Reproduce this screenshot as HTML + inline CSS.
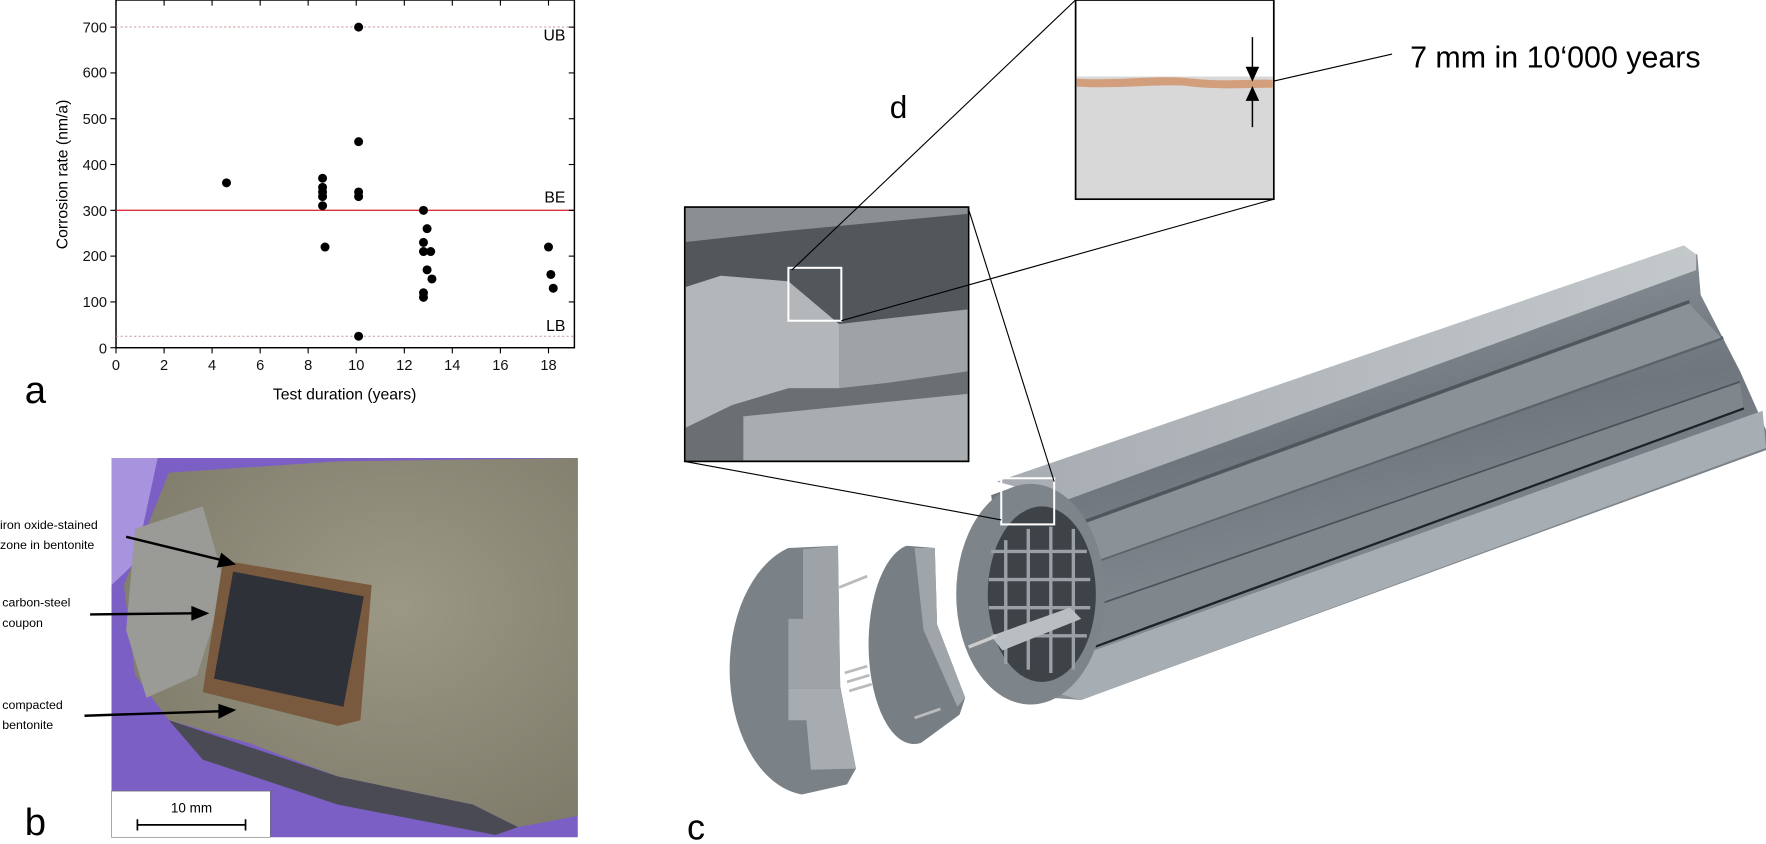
<!DOCTYPE html>
<html><head><meta charset="utf-8"><style>
html,body{margin:0;padding:0;background:#fff;}
svg{display:block}
text{font-family:"Liberation Sans",sans-serif;}
</style></head><body>
<svg width="1766" height="844" viewBox="0 0 1568 750" preserveAspectRatio="none" xmlns="http://www.w3.org/2000/svg">
<defs>
<linearGradient id="body" x1="0" y1="0" x2="0.3" y2="1">
<stop offset="0" stop-color="#9aa1a7"/><stop offset="0.5" stop-color="#6f767d"/><stop offset="1" stop-color="#8d949a"/></linearGradient>
<linearGradient id="top" x1="0" y1="0" x2="1" y2="0">
<stop offset="0" stop-color="#a6acb1"/><stop offset="1" stop-color="#c3c8cb"/></linearGradient>
<radialGradient id="bent" cx="0.6" cy="0.4" r="0.7"><stop offset="0" stop-color="#9c9886"/><stop offset="1" stop-color="#7f7b6a"/></radialGradient>
</defs>

<!-- Panel a: chart -->
<rect x="103" y="0" width="407" height="309" fill="none" stroke="#000" stroke-width="1.3"/>
<line x1="103" y1="24" x2="510" y2="24" stroke="#c99" stroke-width="0.8" stroke-dasharray="2,2"/>
<line x1="103" y1="298.8" x2="510" y2="298.8" stroke="#c99" stroke-width="0.8" stroke-dasharray="2,2"/>
<line x1="103" y1="186.9" x2="510" y2="186.9" stroke="#d9333b" stroke-width="1.2"/>
<g stroke="#000" stroke-width="1">
<line x1="103" y1="309" x2="103" y2="314"/><line x1="145.7" y1="309" x2="145.7" y2="314"/><line x1="188.3" y1="309" x2="188.3" y2="314"/><line x1="231" y1="309" x2="231" y2="314"/><line x1="273.6" y1="309" x2="273.6" y2="314"/><line x1="316.3" y1="309" x2="316.3" y2="314"/><line x1="359" y1="309" x2="359" y2="314"/><line x1="401.6" y1="309" x2="401.6" y2="314"/><line x1="444.3" y1="309" x2="444.3" y2="314"/><line x1="487" y1="309" x2="487" y2="314"/>
<line x1="103" y1="0" x2="103" y2="5"/><line x1="145.7" y1="0" x2="145.7" y2="5"/><line x1="188.3" y1="0" x2="188.3" y2="5"/><line x1="231" y1="0" x2="231" y2="5"/><line x1="273.6" y1="0" x2="273.6" y2="5"/><line x1="316.3" y1="0" x2="316.3" y2="5"/><line x1="359" y1="0" x2="359" y2="5"/><line x1="401.6" y1="0" x2="401.6" y2="5"/><line x1="444.3" y1="0" x2="444.3" y2="5"/><line x1="487" y1="0" x2="487" y2="5"/>
<line x1="98" y1="309" x2="103" y2="309"/><line x1="98" y1="268.3" x2="103" y2="268.3"/><line x1="98" y1="227.6" x2="103" y2="227.6"/><line x1="98" y1="186.9" x2="103" y2="186.9"/><line x1="98" y1="146.2" x2="103" y2="146.2"/><line x1="98" y1="105.5" x2="103" y2="105.5"/><line x1="98" y1="64.8" x2="103" y2="64.8"/><line x1="98" y1="24.1" x2="103" y2="24.1"/>
<line x1="505" y1="268.3" x2="510" y2="268.3"/><line x1="505" y1="227.6" x2="510" y2="227.6"/><line x1="505" y1="186.9" x2="510" y2="186.9"/><line x1="505" y1="146.2" x2="510" y2="146.2"/><line x1="505" y1="105.5" x2="510" y2="105.5"/><line x1="505" y1="64.8" x2="510" y2="64.8"/><line x1="505" y1="24.1" x2="510" y2="24.1"/>
</g>
<g font-size="13" text-anchor="end" fill="#111">
<text x="95" y="314">0</text><text x="95" y="273">100</text><text x="95" y="232">200</text><text x="95" y="192">300</text><text x="95" y="151">400</text><text x="95" y="110">500</text><text x="95" y="69">600</text><text x="95" y="29">700</text>
</g>
<g font-size="13" text-anchor="middle" fill="#111">
<text x="103" y="329">0</text><text x="145.7" y="329">2</text><text x="188.3" y="329">4</text><text x="231" y="329">6</text><text x="273.6" y="329">8</text><text x="316.3" y="329">10</text><text x="359" y="329">12</text><text x="401.6" y="329">14</text><text x="444.3" y="329">16</text><text x="487" y="329">18</text>
</g>
<text x="306" y="355" font-size="14" text-anchor="middle">Test duration (years)</text>
<text transform="translate(60,155) rotate(-90)" font-size="14" text-anchor="middle">Corrosion rate (nm/a)</text>
<g font-size="14" text-anchor="end"><text x="502" y="36">UB</text><text x="502" y="180">BE</text><text x="502" y="294">LB</text></g>
<text x="22" y="358" font-size="34">a</text>
<g fill="#000">
<circle cx="201.1" cy="162.5" r="4"/><circle cx="286.4" cy="158.4" r="4"/><circle cx="286.4" cy="166.5" r="4"/><circle cx="286.4" cy="170.6" r="4"/><circle cx="286.4" cy="174.7" r="4"/><circle cx="286.4" cy="182.8" r="4"/><circle cx="288.6" cy="219.5" r="4"/>
<circle cx="318.4" cy="24.1" r="4"/><circle cx="318.4" cy="125.9" r="4"/><circle cx="318.4" cy="170.6" r="4"/><circle cx="318.4" cy="174.7" r="4"/><circle cx="318.4" cy="298.8" r="4"/>
<circle cx="376" cy="186.9" r="4"/><circle cx="379.2" cy="203.2" r="4"/><circle cx="376" cy="215.4" r="4"/><circle cx="376" cy="223.5" r="4"/><circle cx="382.4" cy="223.5" r="4"/><circle cx="379.2" cy="239.8" r="4"/><circle cx="383.5" cy="247.9" r="4"/><circle cx="376" cy="260.2" r="4"/><circle cx="376" cy="264.2" r="4"/>
<circle cx="487" cy="219.5" r="4"/><circle cx="489.1" cy="243.9" r="4"/><circle cx="491.2" cy="256.1" r="4"/>
</g>

<!-- Panel b: photo -->
<rect x="99" y="407" width="414" height="337" fill="#7c5fc4"/>
<path d="M99,407 L140,407 L120,500 L99,520Z" fill="#a793de"/>
<path d="M150,420 L300,410 L513,407 L513,725 L460,735 L420,715 L300,690 L220,660 L150,640 L120,600 L110,520 L130,470Z" fill="url(#bent)"/>
<path d="M120,470 L180,450 L200,520 L175,600 L130,620 L112,560Z" fill="#9a9b97"/>
<path d="M150,640 L300,690 L420,715 L460,735 L440,742 L300,715 L180,675Z" fill="#4a4a55"/>
<path d="M198,498 L330,520 L320,640 L300,645 L180,615Z" fill="#7a5a3e"/>
<path d="M207,508 L323,530 L305,628 L190,603Z" fill="#2f3139"/>
<rect x="99" y="703" width="141" height="41" fill="#fff" stroke="#666" stroke-width="0.5"/>
<text x="170" y="722" font-size="12" text-anchor="middle">10 mm</text>
<g stroke="#000" stroke-width="1.5"><line x1="122" y1="733" x2="218" y2="733"/><line x1="122" y1="728" x2="122" y2="738"/><line x1="218" y1="728" x2="218" y2="738"/></g>
<g font-size="11" fill="#000">
<text x="0" y="470">iron oxide-stained</text><text x="0" y="488">zone in bentonite</text>
<text x="2" y="539">carbon-steel</text><text x="2" y="557">coupon</text>
<text x="2" y="630">compacted</text><text x="2" y="648">bentonite</text>
</g>
<g stroke="#000" stroke-width="2.2" fill="#000">
<line x1="112" y1="477" x2="198" y2="498"/><path d="M207,501 L194,503 L197,493Z"/>
<line x1="80" y1="546" x2="172" y2="545"/><path d="M183,545 L171,550 L171,540Z"/>
<line x1="75" y1="636" x2="196" y2="632"/><path d="M207,631 L195,637 L195,627Z"/>
</g>
<text x="22" y="742" font-size="34">b</text>

<!-- Panel c: cylinder -->
<path d="M880,440 L1490,222 L1507,226 L1510,262 L1545,330 L1568,382 L1568,400 L960,622 L905,618Z" fill="url(#body)"/>
<path d="M885,428 L1495,218 L1506,226 L1506,240 L945,445 L930,440Z" fill="url(#top)"/>
<path d="M938,590 L1565,365 L1568,398 L960,622 L935,615Z" fill="#a7aeb3"/>
<path d="M945,470 L1500,268" stroke="#4f565c" stroke-width="3"/>
<path d="M955,505 L1530,300" stroke="#5c6369" stroke-width="3"/>
<path d="M955,545 L1545,340" stroke="#4a5157" stroke-width="3"/>
<path d="M955,580 L1548,362" stroke="#1f2226" stroke-width="4"/>
<path d="M950,470 L1500,270 L1528,300 L955,505Z" fill="#8a9298"/>
<path d="M955,545 L1545,340 L1548,362 L955,580Z" fill="#7f868c"/>
<ellipse cx="915" cy="528" rx="66" ry="98" fill="#7d848a"/>
<ellipse cx="925" cy="528" rx="48" ry="78" fill="#3e4347"/>
<g fill="none" stroke="#9aa0a5" stroke-width="3">
<line x1="893" y1="480" x2="893" y2="590"/><line x1="913" y1="470" x2="913" y2="595"/><line x1="933" y1="468" x2="933" y2="598"/><line x1="953" y1="470" x2="953" y2="595"/>
<line x1="880" y1="490" x2="965" y2="490"/><line x1="878" y1="515" x2="968" y2="515"/><line x1="878" y1="540" x2="968" y2="540"/><line x1="880" y1="565" x2="965" y2="565"/>
</g>
<path d="M880,565 L950,540 L960,550 L890,578Z" fill="#b9bec2"/>
<line x1="860" y1="575" x2="885" y2="565" stroke="#ccc" stroke-width="3"/>
<rect x="889" y="425" width="47" height="41" fill="none" stroke="#fff" stroke-width="1.8"/>
<!-- end pieces -->
<path d="M700,487 L744,485 L746,610 L760,683 L752,697 L712,706 A72,112 0 0 1 700,487Z" fill="#7a8187"/>
<path d="M713,488 L744,485 L746,612 L700,612 L700,550 L713,550Z" fill="#9ea3a7"/>
<path d="M700,612 L746,612 L760,683 L720,684 L716,640 L700,640Z" fill="#a7acb0"/>
<path d="M805,485 L830,487 L832,555 L857,620 L852,635 L818,660 A40,88 0 0 1 805,485Z" fill="#777e84"/>
<path d="M812,487 L830,487 L832,555 L857,620 L850,628 L820,560Z" fill="#a0a5a9"/>
<g stroke="#bbb" stroke-width="2.5"><line x1="745" y1="522" x2="770" y2="512"/><line x1="750" y1="598" x2="770" y2="592"/><line x1="752" y1="606" x2="772" y2="600"/><line x1="754" y1="614" x2="774" y2="608"/><line x1="812" y1="638" x2="835" y2="630"/></g>

<!-- insets -->
<rect x="608" y="184" width="252" height="226" fill="#8a8f93" stroke="#000" stroke-width="1.5"/>
<path d="M609,215 L700,205 L859,190 L859,275 L745,288 L700,250 L640,245 L609,255Z" fill="#52575c"/>
<path d="M745,288 L859,275 L859,330 L790,340 L745,345Z" fill="#9ea3a6"/>
<path d="M609,255 L640,245 L700,250 L745,288 L745,345 L700,345 L650,360 L609,380Z" fill="#b3b7ba"/>
<path d="M609,380 L650,360 L700,345 L745,345 L790,340 L859,330 L859,409 L609,409Z" fill="#6a6f74"/>
<path d="M660,370 L859,350 L859,409 L660,409Z" fill="#a9adb0"/>
<rect x="700" y="238" width="47" height="47" fill="none" stroke="#fff" stroke-width="1.8"/>
<rect x="955" y="0" width="176" height="177" fill="#d8d8d8" stroke="#000" stroke-width="1.5"/>
<rect x="956" y="1" width="174" height="67" fill="#fff"/>
<path d="M956,70 C1000,72 1030,66 1060,70 C1090,73 1110,70 1130,71 L1130,78 C1100,78 1080,80 1050,76 C1020,75 990,79 956,77Z" fill="#d29e7b"/>
<g stroke="#000" stroke-width="1.3" fill="#000">
<line x1="1112" y1="33" x2="1112" y2="64"/><path d="M1112,71 L1107,60 L1117,60Z"/>
<line x1="1112" y1="85" x2="1112" y2="113"/><path d="M1112,78 L1107,89 L1117,89Z"/>
</g>
<g stroke="#000" stroke-width="1" fill="none">
<line x1="955" y1="0" x2="703" y2="240"/>
<line x1="1131" y1="177" x2="747" y2="285"/>
<line x1="860" y1="186" x2="936" y2="428"/>
<line x1="608" y1="410" x2="889" y2="462"/>
<line x1="1131" y1="72" x2="1236" y2="48"/>
</g>
<text x="1252" y="60" font-size="27">7 mm in 10‘000 years</text>
<text x="790" y="105" font-size="28">d</text>
<text x="610" y="746" font-size="32">c</text>
</svg>
</body></html>
